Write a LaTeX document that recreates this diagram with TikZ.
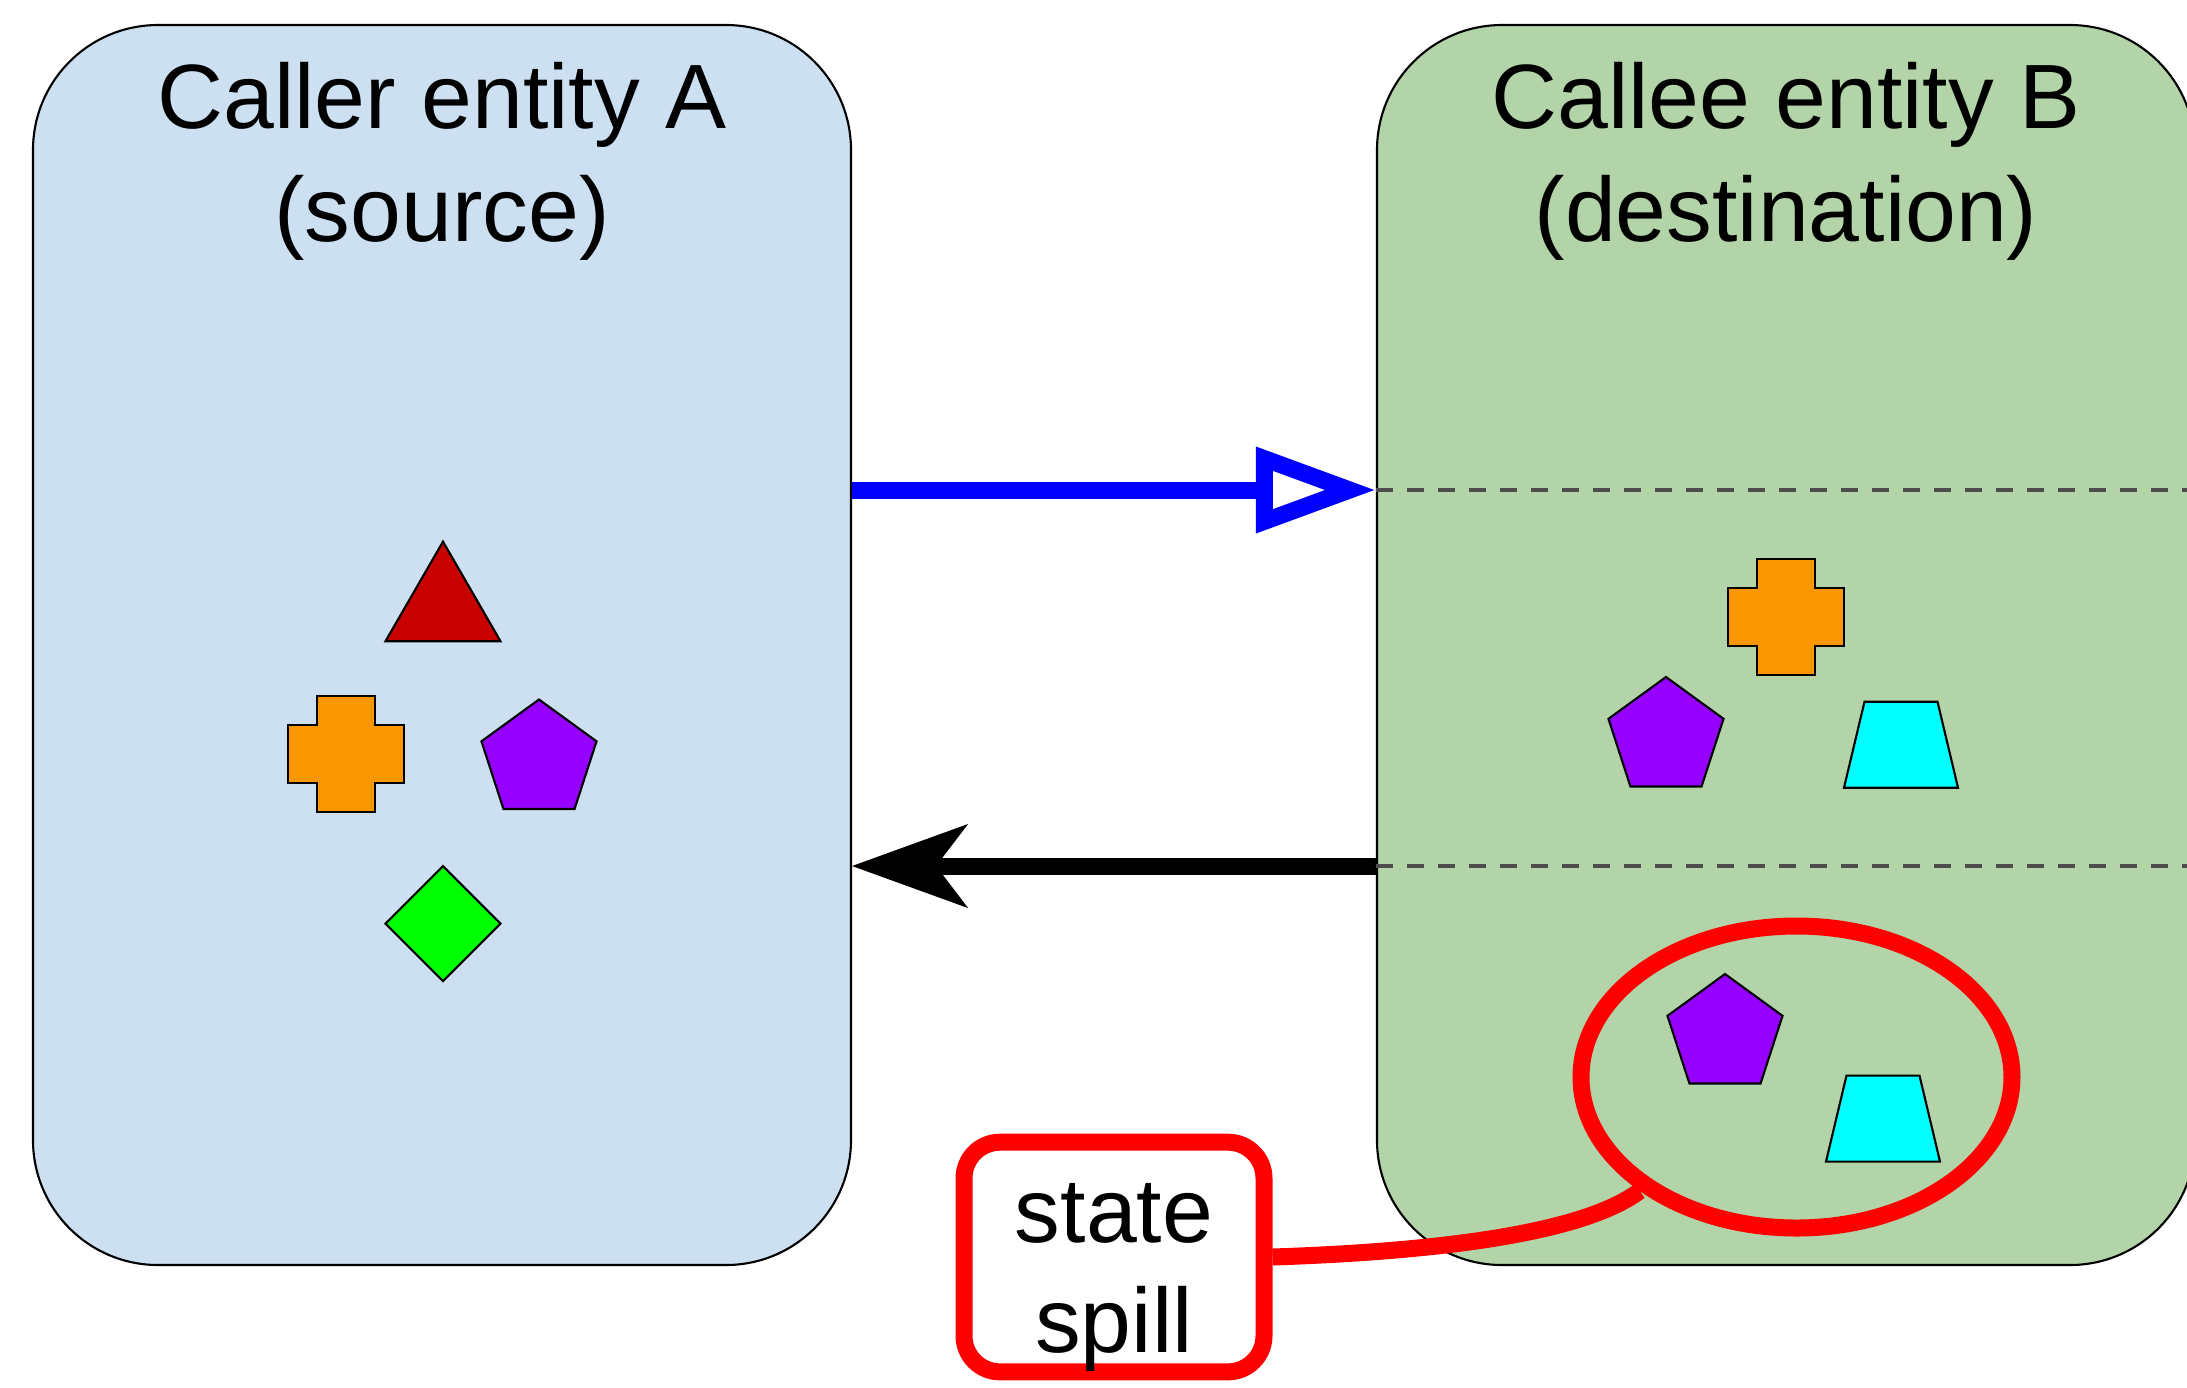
\documentclass[tikz,border=0pt]{standalone}
\usepackage{fontspec}
\setmainfont{Liberation Sans}
\usepackage{tikz}
\usetikzlibrary{arrows.meta, positioning, shapes.geometric}

\definecolor{callerblue}{RGB}{204,224,242}
\definecolor{calleegreen}{RGB}{179,211,168}
\definecolor{callblue}{RGB}{0,0,255}
\definecolor{dividergrey}{RGB}{77,77,77}
\definecolor{spillred}{RGB}{255,0,0}
\definecolor{glyphred}{RGB}{200,0,0}
\definecolor{glyphorange}{RGB}{250,150,0}
\definecolor{glyphpurple}{RGB}{150,0,255}
\definecolor{glyphgreen}{RGB}{0,255,0}
\definecolor{glyphcyan}{RGB}{0,255,255}

\begin{document}
\begin{tikzpicture}[
    entity/.style={rectangle, draw, line width=0.6pt, rounded corners=1.25cm, minimum width=8.18cm, minimum height=12.4cm},
    heading/.style={align=center, inner sep=0pt, font=\fontsize{26}{32}\selectfont},
    callarrow/.style={draw=callblue, line width=0.17cm, -{Triangle[open, length=1.2cm, width=0.82cm]}},
    retarrow/.style={line width=0.17cm, -{Stealth[length=1.16cm, width=0.84cm, inset=0.32cm, line width=0.5pt]}},
    divider/.style={draw=dividergrey, line width=0.045cm, dash pattern=on 0.17cm off 0.14cm},
    ring/.style={ellipse, draw=spillred, line width=0.17cm, inner sep=0pt, minimum width=4.31cm, minimum height=3.02cm},
    tag/.style={draw=spillred, line width=0.17cm, fill=white, rounded corners=0.36cm, align=center, inner sep=0pt, minimum width=3.0cm, minimum height=2.28cm, font=\fontsize{26}{31.5}\selectfont},
    tagline/.style={draw=spillred, line width=0.17cm},
    glyph/.style={draw=black, line width=0.6pt},
    pics/tri/.style={code={\draw[glyph, fill=glyphred] (90:0.664) -- (210:0.664) -- (330:0.664) -- cycle;}},
    pics/pent/.style={code={\draw[glyph, fill=glyphpurple] (90:0.605) -- (162:0.605) -- (234:0.605) -- (306:0.605) -- (18:0.605) -- cycle;}},
    pics/diam/.style={code={\draw[glyph, fill=glyphgreen] (0,0.575) -- (0.575,0) -- (0,-0.575) -- (-0.575,0) -- cycle;}},
    pics/trap/.style={code={\draw[glyph, fill=glyphcyan] (-0.57,-0.43) -- (0.57,-0.43) -- (0.365,0.43) -- (-0.365,0.43) -- cycle;}},
    pics/plus/.style={code={\draw[glyph, fill=glyphorange] (-0.29,0.58) -- (0.29,0.58) -- (0.29,0.29) -- (0.58,0.29) -- (0.58,-0.29) -- (0.29,-0.29) -- (0.29,-0.58) -- (-0.29,-0.58) -- (-0.29,-0.29) -- (-0.58,-0.29) -- (-0.58,0.29) -- (-0.29,0.29) -- cycle;}}
]
    \useasboundingbox (0,0) rectangle (21.87,-13.87);
    \clip (0,0) rectangle (21.87,-13.87);

    % the two entities
    \node [entity, fill=callerblue] (caller) at (4.42,-6.45) {};
    \node [entity, fill=calleegreen] (callee) at (17.86,-6.45) {};
    \node [heading, below=0.38cm of caller.north] (callertitle) {Caller entity A\\(source)};
    \node [heading, below=0.38cm of callee.north] (calleetitle) {Callee entity B\\(destination)};

    % state held by A
    \pic at (4.43,-6.08) {tri};
    \pic at (3.46,-7.54) {plus};
    \pic at (5.39,-7.60) {pent};
    \pic at (4.43,-9.235) {diam};

    % state held by B
    \draw [divider] ([yshift=1.55cm]callee.west) -- ([yshift=1.55cm]callee.east);
    \draw [divider] ([yshift=-2.21cm]callee.west) -- ([yshift=-2.21cm]callee.east);
    \pic at (17.86,-6.17) {plus};
    \pic at (16.66,-7.375) {pent};
    \pic at (19.01,-7.447) {trap};
    \pic at (17.25,-10.345) {pent};
    \pic at (18.83,-11.186) {trap};

    % call and return
    \draw [callarrow] ([yshift=1.55cm]caller.east) -- ([yshift=1.55cm]callee.west);
    \draw [retarrow] ([yshift=-2.21cm]callee.west) -- ([yshift=-2.21cm]caller.east);

    % leftover state
    \node [ring] (leftover) at (17.965,-10.77) {};
    \node [tag] (spill) at (11.14,-12.57) {\rule{0pt}{1.0cm}state\\spill};
    \draw [tagline] (spill.east) .. controls +(1.5,0.05) and +(-0.6,-0.45) .. (leftover.216);
\end{tikzpicture}
\end{document}
